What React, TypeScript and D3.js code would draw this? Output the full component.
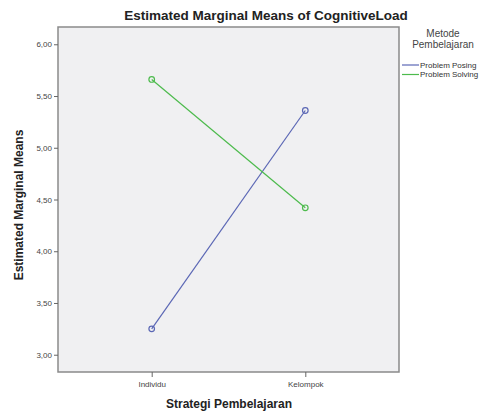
import { useEffect, useRef } from 'react'
import * as d3 from 'd3'

const categories = ['Individu', 'Kelompok']
const seriesNames = ['Problem Posing', 'Problem Solving']
const posingValues = [3.25, 5.36]
const solvingValues = [5.66, 4.42]
const yTicks = [3.0, 3.5, 4.0, 4.5, 5.0, 5.5, 6.0]
const colors = ['#5b67b5', '#4dbb4d']

const W = 485
const H = 413

export default function App() {
  const svgRef = useRef<SVGSVGElement>(null)

  useEffect(() => {
    const svgEl = svgRef.current
    if (!svgEl) return
    const svg = d3.select(svgEl)
    svg.selectAll('*').remove()

    const margin = { top: 27, right: 86, bottom: 41, left: 58 }
    const innerW = W - margin.left - margin.right
    const innerH = H - margin.top - margin.bottom
    const font = '"Liberation Sans", Arial, sans-serif'

    const x = d3.scalePoint<string>().domain(categories).range([0, innerW]).padding(0.61)
    const y = d3.scaleLinear().domain([2.833, 6.167]).range([innerH, 0])

    // Title
    svg.append('text')
      .attr('x', 266).attr('y', 20)
      .attr('text-anchor', 'middle')
      .style('font-family', font).style('font-weight', 'bold').style('font-size', '13.5px')
      .style('fill', '#222')
      .text('Estimated Marginal Means of CognitiveLoad')

    const g = svg.append('g').attr('transform', `translate(${margin.left},${margin.top})`)

    // Panel
    g.append('rect')
      .attr('x', 0).attr('y', 0).attr('width', innerW).attr('height', innerH)
      .style('fill', '#f0f0f2').style('stroke', '#8a8a8a').style('stroke-width', '1.5')

    // Y axis
    const yAxisG = g.append('g')
    yAxisG.call(d3.axisLeft(y).tickValues(yTicks).tickSize(4).tickPadding(2)
      .tickFormat(d => d3.format('.2f')(d as number).replace('.', ',')))
    yAxisG.select('.domain').remove()
    yAxisG.selectAll('.tick line').style('stroke', '#666')
    yAxisG.selectAll('text')
      .style('font-family', font).style('font-size', '8px').style('fill', '#444')

    // X axis
    const xAxisG = g.append('g').attr('transform', `translate(0,${innerH})`)
    xAxisG.call(d3.axisBottom(x).tickSize(5).tickPadding(4))
    xAxisG.select('.domain').remove()
    xAxisG.selectAll('.tick line').style('stroke', '#666')
    xAxisG.selectAll('text')
      .style('font-family', font).style('font-size', '8px').style('fill', '#444')

    // Axis titles
    g.append('text')
      .attr('x', 171).attr('y', innerH + 36)
      .attr('text-anchor', 'middle')
      .style('font-family', font).style('font-weight', 'bold').style('font-size', '12px')
      .style('fill', '#222')
      .text('Strategi Pembelajaran')

    g.append('text')
      .attr('transform', 'rotate(-90)')
      .attr('x', -178).attr('y', -35)
      .attr('text-anchor', 'middle')
      .style('font-family', font).style('font-weight', 'bold').style('font-size', '12px')
      .style('fill', '#222')
      .text('Estimated Marginal Means')

    // Lines
    const series = [posingValues, solvingValues]
    const line = d3.line<number>()
      .x((_, i) => x(categories[i])!)
      .y(d => y(d))

    series.forEach((vals, si) => {
      g.append('path')
        .datum(vals)
        .attr('fill', 'none')
        .attr('d', line)
        .style('stroke', colors[si])
        .style('stroke-width', '1.2')
      g.selectAll(null)
        .data(vals)
        .enter()
        .append('circle')
        .attr('cx', (_, i) => x(categories[i])!)
        .attr('cy', d => y(d))
        .attr('r', 2.8)
        .style('fill', 'none')
        .style('stroke', colors[si])
        .style('stroke-width', '1.2')
    })

    // Legend
    const lg = svg.append('g').attr('transform', `translate(${W - margin.right + 3},0)`)
    lg.append('text')
      .attr('x', 41).attr('y', 37)
      .attr('text-anchor', 'middle')
      .style('font-family', font).style('font-size', '10px').style('fill', '#444')
      .text('Metode')
    lg.append('text')
      .attr('x', 41).attr('y', 48)
      .attr('text-anchor', 'middle')
      .style('font-family', font).style('font-size', '10px').style('fill', '#444')
      .text('Pembelajaran')

    seriesNames.forEach((name, i) => {
      const yy = 65 + i * 9.5
      lg.append('line')
        .attr('x1', 0).attr('x2', 17).attr('y1', yy).attr('y2', yy)
        .style('stroke', colors[i]).style('stroke-width', '1.2')
      lg.append('text')
        .attr('x', 18).attr('y', yy + 2.5)
        .style('font-family', font).style('font-size', '8px').style('fill', '#333')
        .text(name)
    })
  }, [])

  return (
    <svg
      ref={svgRef}
      width={W}
      height={H}
      style={{ position: 'absolute', left: 0, top: 0, background: '#fff' }}
    />
  )
}
